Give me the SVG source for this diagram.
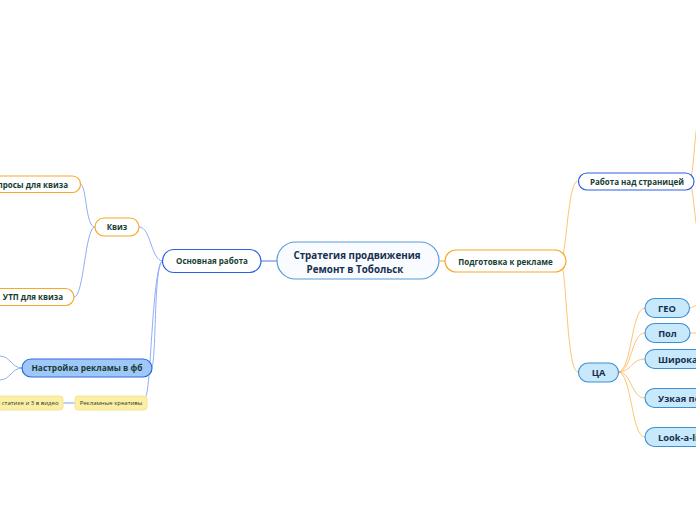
<svg xmlns="http://www.w3.org/2000/svg" width="696" height="520" viewBox="0 0 696 520">
<style>
text{font-family:"Open Sans","Noto Sans","DejaVu Sans",sans-serif;font-weight:bold;fill:#173d33;text-anchor:middle}
.c{fill:#f8fbff;stroke:#5b9bd5;stroke-width:1.2}
.bo{fill:#fff;stroke:#2f5fe8;stroke-width:1.2}
.oo{fill:#fff;stroke:#f7a928;stroke-width:1.2}
.bf{fill:#9fc7f9;stroke:#2b6ad8;stroke-width:1.2}
.lf{fill:#c8e9fb;stroke:#3b8fd4;stroke-width:1.1}
.yf{fill:#fcefa5;stroke:#f6e48f;stroke-width:1}
.lb{fill:none;stroke:#8eaef7;stroke-width:1}
.lo{fill:none;stroke:#fbc575;stroke-width:1}
.navy{fill:#17304f}
.sm{font-weight:normal;font-size:6px}
</style>
<g id="connectors">
<path class="lb" d="M261,261 L277,261" style="stroke:#4a7be8"/>
<path class="lb" d="M163,261 C151,261 151,227 139,227"/>
<path class="lb" d="M163,261 C153,261 157,368 151,368"/>
<path class="lb" d="M163,261 C152,261 151,400 145,397"/>
<path class="lb" d="M95,227 C85,227 87,184 80,184"/>
<path class="lb" d="M95,227 C85,227 84,297 74,297"/>
<path class="lb" d="M22,368 C12,368 10,356 0,356"/>
<path class="lb" d="M22,368 C12,368 10,380 0,380"/>
<path class="lb" d="M75,403 L63,403" style="stroke:#a9c4f7;stroke-width:1.6"/>
<path class="lo" d="M440,261 L445,261" style="stroke:#f7a928"/>
<path class="lo" d="M560,261 C567,261 567,181 578,181"/>
<path class="lo" d="M560,261 C567,261 566,372 578,372"/>
<path class="lo" d="M688,182 C696,182 692,110 706,100"/>
<path class="lo" d="M688,182 C696,182 692,240 706,250"/>
<path class="lo" d="M618,372 C632,372 631,308 645,308"/>
<path class="lo" d="M618,372 C632,372 631,333 645,333"/>
<path class="lo" d="M618,372 C632,372 631,359 645,359"/>
<path class="lo" d="M618,372 C632,372 631,398 645,398"/>
<path class="lo" d="M618,372 C632,372 631,437 645,437"/>
<path class="lo" d="M618,372 L621,372" style="stroke:#f7a928;stroke-width:1.5"/>
<path class="lo" d="M689,308 C693,308 694,305 700,305"/>
<path class="lo" d="M690,333 L700,333"/>
</g>
<g id="center">
<rect class="c" x="277" y="242" width="162" height="37" rx="18.5"/>
<text class="navy" x="357" y="259" font-size="9.8">Стратегия продвижения</text>
<text class="navy" x="355" y="273" font-size="9.8">Ремонт в Тобольск</text>
</g>
<g id="osnovnaya">
<rect class="bo" x="162.5" y="249.5" width="98.5" height="23" rx="11.5"/>
<text x="212" y="264" font-size="8">Основная работа</text>
</g>
<g id="kviz">
<rect class="oo" x="95" y="218" width="44" height="18" rx="9"/>
<text x="117" y="230" font-size="8">Квиз</text>
</g>
<g id="voprosy">
<rect class="oo" x="-25" y="176" width="105.5" height="16.5" rx="8"/>
<text x="68" y="187.5" font-size="8" style="text-anchor:end">Вопросы для квиза</text>
</g>
<g id="utp">
<rect class="oo" x="-10" y="288.5" width="84" height="17" rx="8.5"/>
<text x="33" y="300" font-size="8">УТП для квиза</text>
</g>
<g id="nastroika">
<rect class="bf" x="22" y="359" width="130" height="18" rx="9"/>
<text x="87" y="371" font-size="8.4">Настройка рекламы в фб</text>
</g>
<g id="kreativy">
<rect class="yf" x="75" y="396" width="72" height="14" rx="3"/>
<text class="sm" x="111" y="405.3">Рекламные креативы</text>
</g>
<g id="statika">
<rect class="yf" x="-40" y="396" width="103" height="14" rx="3"/>
<text class="sm" x="58.5" y="405.3" style="text-anchor:end">3 в статике и 3 в видео</text>
</g>
<g id="podgotovka">
<rect class="oo" x="445" y="250" width="121" height="22" rx="11"/>
<text x="505.5" y="264.5" font-size="8">Подготовка к рекламе</text>
</g>
<g id="stranica">
<rect class="bo" x="578.5" y="173" width="115.5" height="17" rx="8.5"/>
<text x="637" y="185" font-size="8">Работа над страницей</text>
</g>
<g id="ca">
<rect class="lf" x="578.5" y="363" width="40" height="19" rx="9.5"/>
<text class="navy" x="598.5" y="376" font-size="9.3">ЦА</text>
</g>
<g id="geo">
<rect class="lf" x="645" y="298.5" width="44.5" height="19" rx="9.5"/>
<text class="navy" x="667" y="311.5" font-size="9.3">ГЕО</text>
</g>
<g id="pol">
<rect class="lf" x="645" y="323.5" width="45" height="19" rx="9.5"/>
<text class="navy" x="667.5" y="336.5" font-size="9.3">Пол</text>
</g>
<g id="shirokaya">
<rect class="lf" x="645" y="349.5" width="90" height="19" rx="9.5"/>
<text class="navy" x="658" y="362.5" font-size="9.3" style="text-anchor:start">Широкая</text>
</g>
<g id="uzkaya">
<rect class="lf" x="645" y="388.5" width="90" height="19" rx="9.5"/>
<text class="navy" x="658" y="401.5" font-size="9.3" style="text-anchor:start">Узкая по интересам</text>
</g>
<g id="lookalike">
<rect class="lf" x="645" y="427.5" width="90" height="19" rx="9.5"/>
<text class="navy" x="658" y="440.5" font-size="9.3" style="text-anchor:start">Look-a-like</text>
</g>
</svg>
